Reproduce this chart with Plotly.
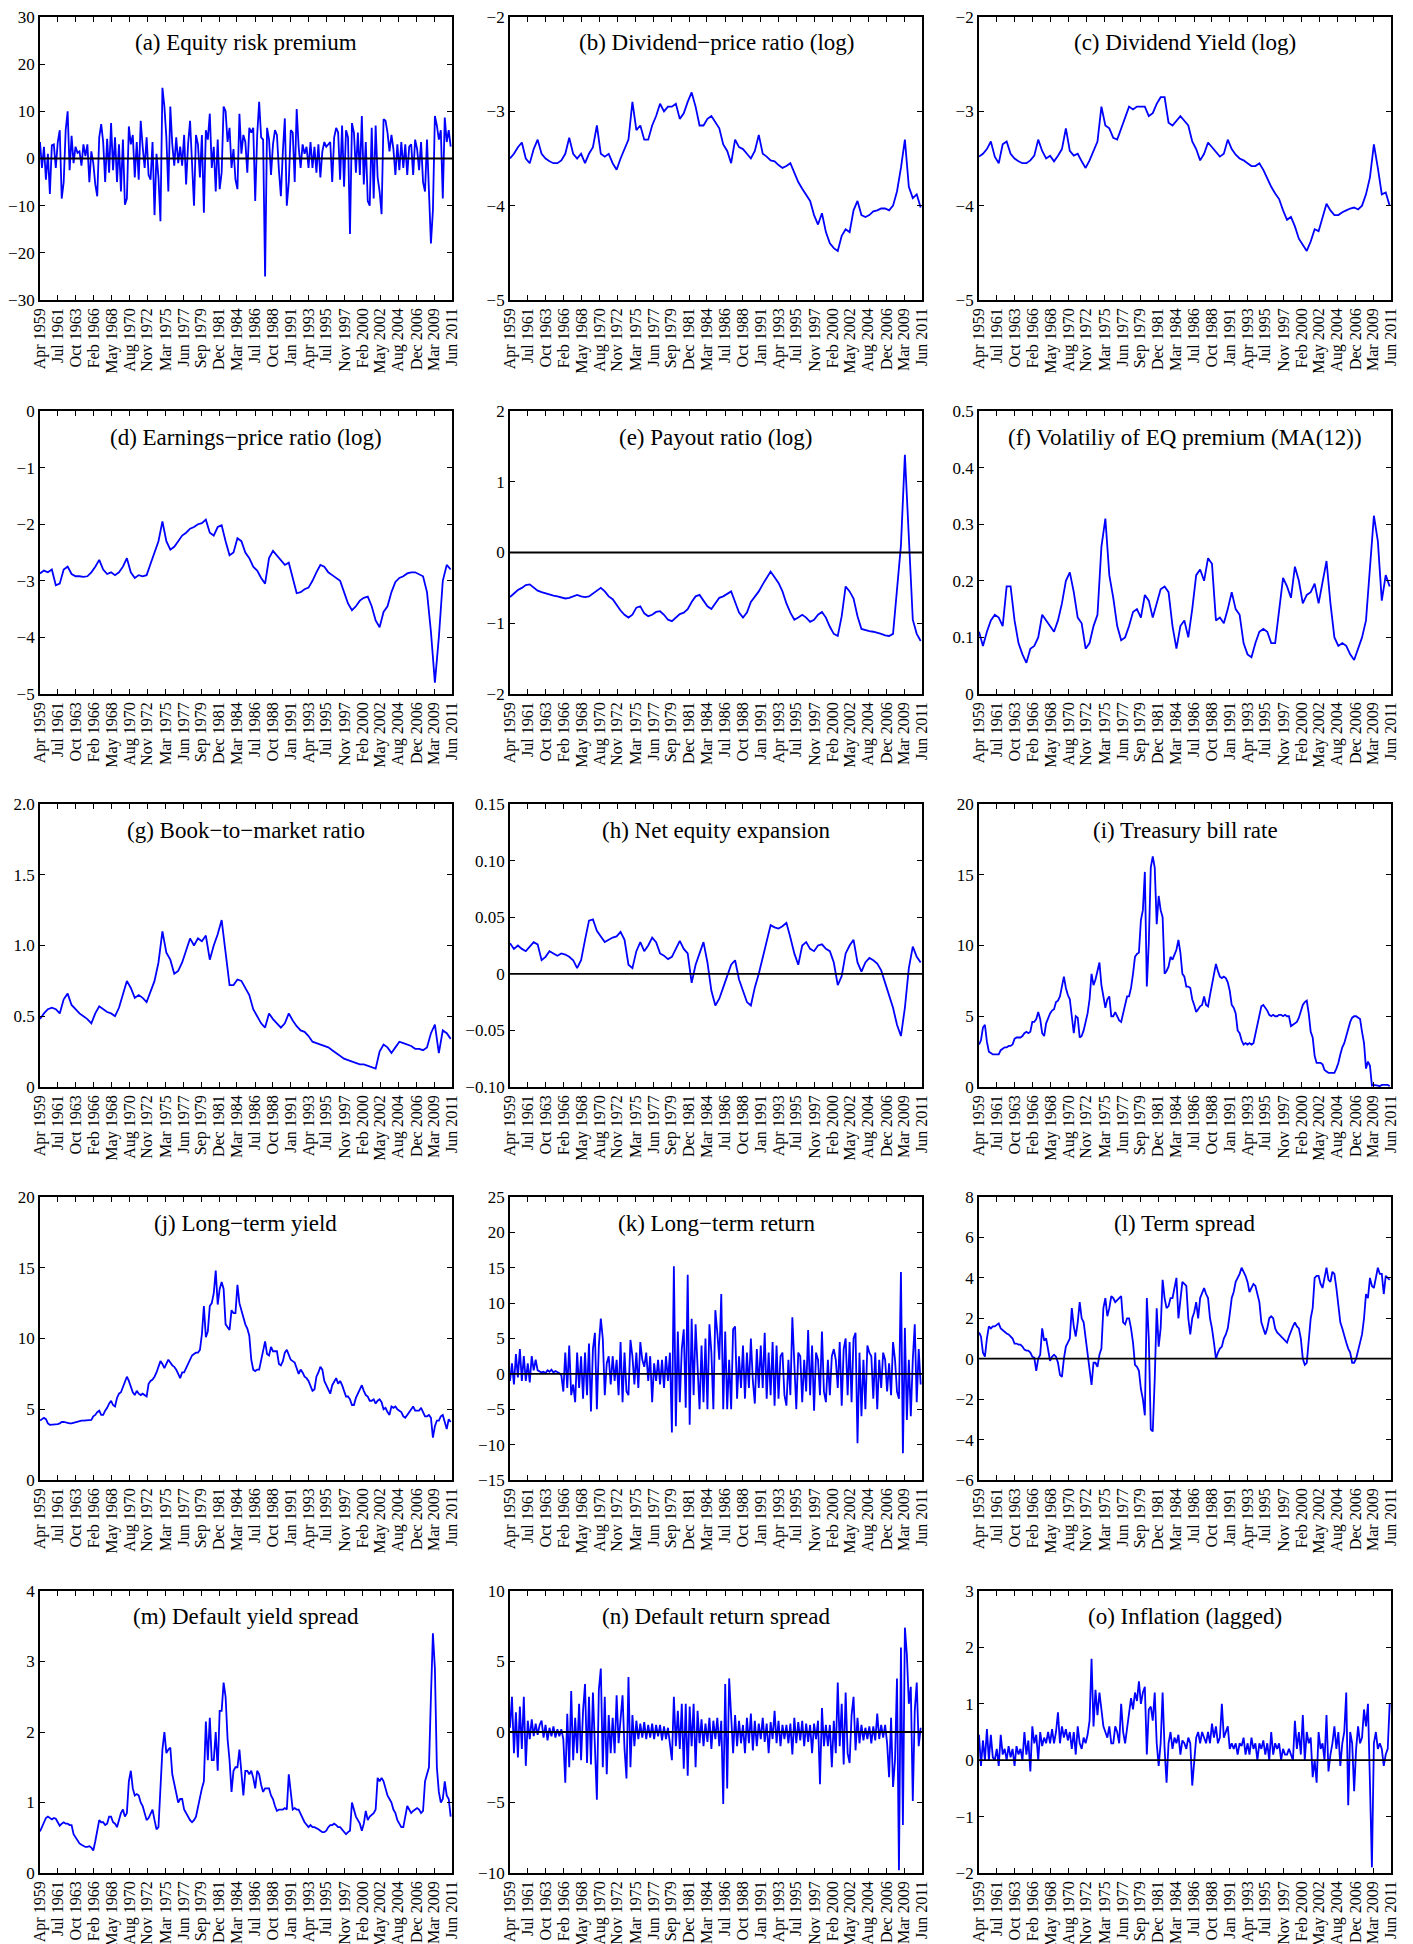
import math
import plotly.graph_objects as go

# ---------------- data ----------------
N_MONTHS = 627  # Apr 1959 .. Jun 2011, monthly
x_tick_labels = ["Apr 1959", "Jul 1961", "Oct 1963", "Feb 1966", "May 1968", "Aug 1970",
                 "Nov 1972", "Mar 1975", "Jun 1977", "Sep 1979", "Dec 1981", "Mar 1984",
                 "Jul 1986", "Oct 1988", "Jan 1991", "Apr 1993", "Jul 1995", "Nov 1997",
                 "Feb 2000", "May 2002", "Aug 2004", "Dec 2006", "Mar 2009", "Jun 2011"]

# quarterly samples (Apr, Jul, Oct, Jan) from Apr 1959
equity_premium = [
    3.5, -2.0, 2.5, -4.5, 1.0, -7.5, 2.8, 3.0, -2.0, 3.5, 6.0, -8.5, -5.0, 6.0, 10.0, -2.5,
    4.8, -1.0, 2.5, 1.2, 1.5, -1.5, 3.0, 0.5, 3.0, -5.0, 1.5, -1.0, -5.5, -8.0, 4.5, 7.3,
    3.5, -5.0, 4.2, -3.0, 7.5, -2.5, 4.5, -5.0, 3.0, -7.0, 4.0, -9.8, -8.5, 6.8, 3.0, 5.0,
    -4.0, 3.5, -4.5, 8.0, 2.5, -2.0, 4.5, -3.5, -4.5, 3.5, -12.0, 1.0, -4.0, -13.3, 15.0, 11.0,
    4.5, -7.0, 11.0, 3.0, -1.5, 4.5, -1.0, 2.5, -1.5, 5.0, -5.5, 3.0, 8.0, -2.5, -10.0, 5.0,
    3.0, -4.0, 5.0, -11.5, 6.0, 4.0, 9.5, -2.0, 2.5, -7.0, 4.0, -6.5, -3.0, 11.0, 10.0, 3.5,
    6.5, -2.0, 2.0, -4.5, -6.5, 9.5, 1.0, 5.0, 3.5, -3.0, 6.5, 5.5, 6.5, -9.0, 5.0, 12.0,
    4.5, 4.0, -25.0, 6.5, 4.0, -3.5, 3.0, 6.0, 5.0, -2.5, -8.0, 1.5, 8.5, -10.0, -5.0, 6.0,
    5.5, -5.0, 10.5, 2.5, -2.0, 3.0, 1.0, 2.5, -2.0, 3.5, -2.0, 2.5, -3.0, 3.0, -4.0, 1.5,
    3.5, 2.5, 3.0, 3.5, -5.0, 4.5, 6.5, 5.5, -4.5, 7.0, -6.0, 6.0, 4.5, -16.0, 7.5, 5.5,
    -3.0, 5.5, -3.5, 9.0, -5.5, 3.5, -9.0, -10.0, 6.5, -8.5, 7.0, -4.0, -7.0, -11.8, 8.3, 8.0,
    5.5, 1.5, 5.0, 2.0, -3.5, 3.0, -2.5, 3.5, -2.0, 3.0, -3.5, 2.5, 3.0, -3.5, 4.0, 2.0,
    -2.5, 3.5, -5.0, -7.0, 4.0, -8.7, -18.0, -11.0, 9.0, 7.0, 4.0, 6.0, -8.5, 8.7, 3.5, 6.0,
    2.5]

# semi-annual samples (Apr, Oct) from Apr 1959
dividend_price = [
    -3.50, -3.45, -3.38, -3.33, -3.50, -3.55, -3.40, -3.30, -3.45, -3.50,
    -3.53, -3.55, -3.55, -3.52, -3.45, -3.28, -3.45, -3.50, -3.45, -3.55,
    -3.45, -3.38, -3.15, -3.45, -3.48, -3.45, -3.55, -3.62, -3.50, -3.40,
    -3.30, -2.90, -3.20, -3.15, -3.30, -3.30, -3.15, -3.05, -2.92, -3.00,
    -2.95, -2.95, -2.92, -3.08, -3.02, -2.90, -2.80, -2.95, -3.15, -3.15,
    -3.08, -3.05, -3.12, -3.18, -3.35, -3.42, -3.55, -3.30, -3.38, -3.40,
    -3.45, -3.50, -3.42, -3.25, -3.45, -3.48, -3.52, -3.53, -3.57, -3.60,
    -3.58, -3.55, -3.65, -3.75, -3.82, -3.88, -3.95, -4.10, -4.20, -4.08,
    -4.28, -4.40, -4.45, -4.48, -4.32, -4.25, -4.28, -4.05, -3.95, -4.10,
    -4.12, -4.10, -4.06, -4.05, -4.03, -4.03, -4.05, -4.00, -3.85, -3.60,
    -3.30, -3.80, -3.92, -3.88, -4.02]

dividend_yield = [
    -3.48, -3.45, -3.40, -3.32, -3.48, -3.55, -3.35, -3.32, -3.45, -3.50,
    -3.53, -3.55, -3.55, -3.52, -3.47, -3.30, -3.42, -3.50, -3.47, -3.53,
    -3.47, -3.40, -3.18, -3.42, -3.47, -3.45, -3.53, -3.60, -3.52, -3.42,
    -3.32, -2.95, -3.15, -3.18, -3.28, -3.30, -3.18, -3.05, -2.95, -2.98,
    -2.95, -2.95, -2.95, -3.05, -3.02, -2.92, -2.85, -2.85, -3.12, -3.15,
    -3.10, -3.05, -3.10, -3.15, -3.32, -3.40, -3.52, -3.45, -3.33, -3.38,
    -3.43, -3.48, -3.45, -3.30, -3.40, -3.46, -3.50, -3.52, -3.55, -3.58,
    -3.58, -3.55, -3.62, -3.72, -3.80, -3.87, -3.93, -4.05, -4.15, -4.12,
    -4.22, -4.35, -4.42, -4.48, -4.38, -4.25, -4.27, -4.12, -3.98, -4.05,
    -4.10, -4.10, -4.07, -4.05, -4.03, -4.02, -4.04, -4.00, -3.88, -3.70,
    -3.35, -3.60, -3.88, -3.86, -4.00]

earnings_price = [
    -2.87, -2.82, -2.85, -2.80, -3.08, -3.05, -2.80, -2.75, -2.88, -2.92,
    -2.92, -2.93, -2.92, -2.85, -2.75, -2.63, -2.80, -2.88, -2.85, -2.90,
    -2.85, -2.75, -2.60, -2.85, -2.95, -2.90, -2.92, -2.90, -2.70, -2.50,
    -2.30, -1.95, -2.30, -2.45, -2.40, -2.30, -2.20, -2.15, -2.08, -2.05,
    -2.00, -1.98, -1.92, -2.15, -2.20, -2.05, -2.02, -2.30, -2.55, -2.50,
    -2.25, -2.30, -2.50, -2.60, -2.75, -2.82, -2.95, -3.05, -2.60, -2.47,
    -2.55, -2.65, -2.72, -2.68, -2.95, -3.22, -3.20, -3.15, -3.12, -3.00,
    -2.85, -2.72, -2.75, -2.85, -2.90, -2.95, -3.00, -3.20, -3.40, -3.52,
    -3.45, -3.35, -3.30, -3.28, -3.45, -3.70, -3.82, -3.55, -3.45, -3.20,
    -3.02, -2.95, -2.92, -2.87, -2.85, -2.85, -2.88, -2.92, -3.20, -3.90,
    -4.80, -4.00, -3.00, -2.72, -2.80]

payout_ratio = [
    -0.63, -0.58, -0.53, -0.50, -0.46, -0.45, -0.50, -0.54, -0.56, -0.58,
    -0.59, -0.61, -0.62, -0.64, -0.65, -0.64, -0.62, -0.60, -0.62, -0.63,
    -0.62, -0.58, -0.53, -0.50, -0.55, -0.62, -0.66, -0.75, -0.82, -0.88,
    -0.92, -0.88, -0.78, -0.76, -0.86, -0.90, -0.88, -0.84, -0.83, -0.88,
    -0.95, -0.97, -0.92, -0.87, -0.85, -0.80, -0.70, -0.62, -0.60, -0.68,
    -0.76, -0.80, -0.72, -0.64, -0.62, -0.58, -0.55, -0.70, -0.85, -0.92,
    -0.85, -0.70, -0.62, -0.55, -0.45, -0.35, -0.27, -0.35, -0.43, -0.55,
    -0.72, -0.85, -0.95, -0.92, -0.88, -0.92, -0.98, -0.95, -0.88, -0.84,
    -0.92, -1.05, -1.15, -1.18, -0.90, -0.48, -0.55, -0.65, -0.90, -1.08,
    -1.10, -1.11, -1.12, -1.13, -1.15, -1.17, -1.18, -1.15, -0.55, 0.10,
    1.38, 0.20, -0.95, -1.15, -1.25]

volatility = [
    0.110, 0.085, 0.110, 0.130, 0.140, 0.135, 0.120, 0.190, 0.190, 0.130,
    0.090, 0.070, 0.055, 0.080, 0.085, 0.100, 0.140, 0.130, 0.120, 0.110,
    0.130, 0.160, 0.200, 0.215, 0.180, 0.135, 0.125, 0.080, 0.090, 0.120,
    0.140, 0.260, 0.310, 0.210, 0.170, 0.120, 0.095, 0.100, 0.120, 0.145,
    0.150, 0.135, 0.175, 0.165, 0.135, 0.160, 0.185, 0.190, 0.180, 0.120,
    0.080, 0.120, 0.130, 0.100, 0.150, 0.210, 0.220, 0.200, 0.240, 0.230,
    0.130, 0.135, 0.125, 0.150, 0.180, 0.150, 0.140, 0.090, 0.070, 0.065,
    0.090, 0.110, 0.115, 0.110, 0.090, 0.090, 0.150, 0.205, 0.190, 0.170,
    0.225, 0.200, 0.160, 0.175, 0.180, 0.195, 0.160, 0.200, 0.235, 0.160,
    0.100, 0.085, 0.090, 0.085, 0.070, 0.060, 0.080, 0.100, 0.130, 0.230,
    0.315, 0.270, 0.165, 0.210, 0.190]

book_to_market = [
    0.48, 0.52, 0.55, 0.56, 0.55, 0.52, 0.62, 0.66, 0.58, 0.55,
    0.52, 0.50, 0.48, 0.45, 0.52, 0.57, 0.55, 0.53, 0.52, 0.50,
    0.56, 0.65, 0.75, 0.70, 0.63, 0.65, 0.63, 0.60, 0.68, 0.75,
    0.88, 1.10, 0.95, 0.90, 0.80, 0.82, 0.88, 0.96, 1.05, 1.00,
    1.05, 1.03, 1.07, 0.90, 1.00, 1.08, 1.18, 0.95, 0.72, 0.72,
    0.76, 0.75, 0.70, 0.65, 0.55, 0.50, 0.45, 0.42, 0.52, 0.48,
    0.45, 0.42, 0.45, 0.52, 0.47, 0.43, 0.40, 0.39, 0.36, 0.32,
    0.31, 0.30, 0.29, 0.28, 0.26, 0.24, 0.22, 0.20, 0.19, 0.18,
    0.17, 0.16, 0.16, 0.15, 0.14, 0.13, 0.25, 0.30, 0.28, 0.24,
    0.28, 0.32, 0.31, 0.30, 0.29, 0.27, 0.27, 0.26, 0.28, 0.38,
    0.44, 0.24, 0.40, 0.38, 0.34]

net_equity = [
    0.027, 0.022, 0.025, 0.022, 0.020, 0.024, 0.028, 0.026, 0.012, 0.015,
    0.020, 0.018, 0.016, 0.018, 0.017, 0.015, 0.012, 0.005, 0.012, 0.030,
    0.047, 0.048, 0.038, 0.033, 0.028, 0.030, 0.032, 0.033, 0.037, 0.030,
    0.008, 0.005, 0.020, 0.028, 0.020, 0.025, 0.032, 0.028, 0.018, 0.016,
    0.013, 0.015, 0.022, 0.029, 0.022, 0.018, -0.008, 0.008, 0.018, 0.028,
    0.010, -0.015, -0.028, -0.022, -0.012, -0.002, 0.008, 0.012, -0.005, -0.015,
    -0.025, -0.028, -0.012, 0.000, 0.015, 0.030, 0.043, 0.041, 0.040, 0.042,
    0.045, 0.032, 0.018, 0.008, 0.025, 0.028, 0.022, 0.020, 0.025, 0.026,
    0.022, 0.020, 0.010, -0.010, -0.002, 0.018, 0.025, 0.030, 0.010, 0.002,
    0.010, 0.014, 0.012, 0.009, 0.003, -0.008, -0.018, -0.030, -0.045, -0.055,
    -0.030, 0.005, 0.024, 0.015, 0.010]

# quarterly samples
tbill_rate = [
    3.0, 3.3, 4.2, 4.4, 3.2, 2.5, 2.4, 2.3, 2.3, 2.3, 2.3, 2.6, 2.7, 2.8, 2.8, 2.9,
    2.9, 3.0, 3.4, 3.5, 3.5, 3.5, 3.6, 3.8, 3.9, 3.8, 3.9, 4.6, 4.6, 4.8, 5.3, 4.8,
    3.8, 3.6, 4.5, 4.9, 5.2, 5.4, 5.5, 6.0, 6.1, 6.4, 7.0, 7.8, 7.0, 6.5, 6.2, 5.0,
    3.8, 5.0, 4.9, 3.5, 3.6, 4.0, 4.6, 5.2, 6.2, 8.0, 7.2, 7.6, 8.2, 8.8, 7.2, 6.5,
    5.6, 6.2, 6.4, 5.0, 5.0, 5.3, 5.0, 4.7, 4.6, 5.2, 6.0, 6.4, 6.4, 7.0, 8.0, 9.2,
    9.4, 9.5, 11.8, 12.5, 15.2, 7.1, 10.2, 15.5, 16.3, 15.5, 11.5, 13.5, 12.5, 12.0, 8.0, 8.2,
    8.5, 9.2, 9.0, 9.3, 9.7, 10.4, 9.5, 8.0, 7.8, 7.1, 7.1, 7.0, 6.2, 5.8, 5.3, 5.5,
    5.7, 5.8, 6.4, 5.8, 5.7, 6.5, 7.2, 8.0, 8.7, 8.2, 7.8, 7.7, 7.8, 7.7, 7.4, 6.8,
    5.8, 5.6, 5.2, 4.0, 3.8, 3.3, 3.0, 3.1, 3.0, 3.1, 3.0, 3.1, 3.7, 4.3, 4.9, 5.7,
    5.8, 5.6, 5.4, 5.1, 5.0, 5.1, 5.0, 5.0, 5.1, 5.1, 5.0, 5.1, 5.0, 5.0, 4.3, 4.4,
    4.5, 4.6, 4.9, 5.3, 5.8, 6.0, 6.1, 5.2, 3.9, 3.5, 2.2, 1.7, 1.7, 1.7, 1.6, 1.2,
    1.1, 1.0, 1.0, 1.0, 1.0, 1.3, 1.7, 2.3, 2.8, 3.1, 3.6, 4.0, 4.6, 4.9, 5.0, 5.0,
    4.9, 4.8, 3.9, 3.1, 1.3, 1.8, 1.5, 0.1, 0.15, 0.15, 0.1, 0.05, 0.15, 0.15, 0.13, 0.15,
    0.05]

long_term_yield = [
    4.2, 4.3, 4.4, 4.3, 4.0, 3.9, 3.9, 3.9, 3.9, 3.95, 4.0, 4.1, 4.1, 4.05, 4.0, 4.0,
    4.0, 4.05, 4.1, 4.15, 4.2, 4.2, 4.2, 4.2, 4.2, 4.2, 4.25, 4.5, 4.6, 4.8, 4.9, 4.6,
    4.6, 4.9, 5.1, 5.4, 5.6, 5.3, 5.2, 5.8, 6.1, 6.2, 6.6, 6.9, 7.3, 7.0, 6.6, 6.2,
    6.0, 6.3, 6.1, 6.0, 6.1, 6.0, 5.9, 6.8, 7.0, 7.1, 7.3, 7.6, 8.0, 8.4, 8.2, 7.9,
    8.2, 8.5, 8.3, 8.1, 8.0, 7.8, 7.5, 7.2, 7.6, 7.6, 7.9, 8.2, 8.4, 8.8, 8.9, 9.0,
    9.0, 9.2, 10.3, 12.3, 10.1, 10.5, 12.3, 12.5, 13.2, 14.8, 12.4, 13.5, 14.0, 13.5, 11.0, 10.8,
    10.6, 12.0, 11.8, 11.8, 13.8, 12.5, 12.0, 11.5, 11.0, 10.7, 10.2, 8.5, 7.8, 7.7, 7.8, 7.8,
    8.5, 9.0, 9.8, 8.9, 8.8, 9.4, 9.1, 9.1, 9.1, 8.2, 8.1, 8.4, 9.0, 9.2, 8.8, 8.5,
    8.4, 8.3, 7.9, 7.5, 7.8, 7.6, 7.3, 7.2, 7.0, 6.7, 6.3, 6.4, 7.3, 7.6, 8.0, 7.8,
    7.0, 6.7, 6.4, 6.1, 6.7, 7.0, 7.2, 6.8, 7.0, 6.7, 6.3, 5.9, 5.9, 5.7, 5.3, 5.3,
    5.8, 6.1, 6.4, 6.7, 6.3, 6.0, 5.9, 5.6, 5.6, 5.7, 5.4, 5.6, 5.7, 5.5, 5.0, 5.1,
    4.8, 4.6, 5.2, 5.1, 5.2, 5.0, 4.9, 4.8, 4.5, 4.4, 4.6, 4.8, 5.0, 5.2, 4.9, 4.9,
    4.9, 5.1, 4.8, 4.5, 4.5, 4.6, 4.4, 3.0, 3.8, 4.2, 4.2, 4.5, 4.6, 4.1, 3.6, 4.3,
    4.1]

long_term_return = [
    -1.0, 1.5, -1.5, 2.8, -0.5, 3.5, -1.0, 2.5, -1.0, 1.5, -1.2, 2.5, 0.5, 2.0, 0.5, 0.3,
    0.2, 0.3, 0.1, 0.5, 0.3, 0.6, 0.2, 0.4, 0.3, 0.1, -0.2, -2.5, 3.0, -2.0, 4.0, -3.0,
    -1.5, -4.0, 3.0, -2.0, 2.5, -3.5, 3.0, -3.0, 4.3, -5.3, 3.5, 5.8, -5.0, 4.0, 7.8, 5.0,
    -3.0, 1.5, 2.5, -1.5, 2.5, -1.0, 2.0, -3.0, 4.5, -4.0, 3.0, -2.5, -3.0, 4.8, 2.5, -1.5,
    3.0, -2.0, 4.5, 2.0, 1.0, 3.0, -1.0, 2.5, -4.0, 1.5, -1.0, 2.0, -1.5, 2.0, -2.0, 2.5,
    -1.0, 3.0, -8.3, 15.2, -7.4, 6.0, -4.0, 3.5, 6.3, -4.8, 14.0, -7.2, 7.8, -3.0, 7.0, 1.0,
    -5.0, 4.0, -4.0, 5.0, -5.0, 7.0, 3.0, -5.0, 9.0, 5.8, 2.0, 11.3, -5.0, 6.0, -5.0, 2.0,
    -5.0, 6.3, 6.7, -3.5, 2.5, -2.0, 4.0, -3.5, 3.0, -2.0, 5.0, -1.0, -4.2, 3.5, -2.0, 4.0,
    -2.0, 5.8, -3.5, 3.0, -3.0, 4.5, -4.5, 4.0, -3.5, 2.5, 3.0, -3.0, -4.5, 2.0, -3.0, 8.0,
    2.0, -5.0, 3.0, 2.5, -4.0, 2.0, -2.5, 6.2, -3.0, 4.0, -5.2, 3.0, 2.0, -3.0, 6.0, -2.5,
    -4.0, 2.0, -3.0, 2.5, 3.5, 2.0, -2.0, 4.5, -4.5, 3.5, 5.0, -3.0, 4.5, -4.0, 5.0, 5.8,
    -9.8, 3.0, -6.0, 2.0, -5.0, 4.0, 3.0, 2.5, -3.5, 3.0, -5.0, 2.0, -2.0, 3.0, 2.0, -2.5,
    1.5, -3.0, 4.5, 2.0, -2.5, -3.5, 14.4, -11.2, 6.5, -6.5, 2.0, -6.0, 2.0, 7.0, -4.0, 3.5,
    -1.5]

term_spread = [
    1.3, 1.1, 0.3, 0.1, 1.0, 1.6, 1.5, 1.6, 1.6, 1.7, 1.75, 1.5, 1.4, 1.3, 1.25, 1.2,
    1.1, 1.0, 0.75, 0.75, 0.7, 0.7, 0.6, 0.45, 0.4, 0.4, 0.3, 0.1, 0.05, -0.6, 0.0, 0.2,
    1.5, 0.9, 1.0, 0.5, -0.1, 0.1, 0.2, 0.1, -0.2, -0.8, -0.9, 0.0, 0.6, 0.8, 1.0, 2.5,
    1.6, 1.1, 1.8, 2.8, 2.0, 1.8, 1.0, 0.5, -0.5, -1.3, -0.2, -0.2, -0.4, 0.2, 0.5, 2.5,
    3.0, 2.1, 2.5, 3.1, 3.0, 2.8, 2.9, 3.0, 3.1, 1.8, 1.7, 2.0, 2.0, 1.5, 0.8, -0.3,
    -0.4, -0.6, -1.5, -2.0, -2.8, 3.0, 1.0, -3.5, -3.6, -1.0, 2.5, 0.6, 1.5, 3.9, 3.0, 2.5,
    2.6, 3.0, 3.0, 3.5, 4.0, 2.0, 3.0, 3.8, 3.7, 3.6, 2.0, 1.2, 2.0, 2.3, 2.8, 2.0,
    3.0, 3.3, 3.5, 3.2, 3.0, 2.0, 1.5, 0.8, 0.0, 0.3, 0.5, 0.6, 1.0, 1.2, 1.5, 2.2,
    3.0, 3.3, 3.8, 4.0, 4.2, 4.5, 4.3, 4.1, 3.8, 3.3, 3.5, 3.7, 3.6, 3.2, 2.8, 1.8,
    1.5, 1.2, 1.5, 2.0, 2.1, 2.0, 1.5, 1.3, 1.2, 1.1, 1.0, 0.9, 0.8, 1.1, 1.4, 1.6,
    1.8, 1.6, 1.5, 1.0, 0.0, -0.3, -0.2, 1.0, 2.0, 2.5, 4.0, 4.1, 4.1, 3.7, 3.5, 4.0,
    4.5, 3.9, 3.8, 4.3, 4.2, 3.5, 2.7, 1.8, 1.5, 1.1, 0.8, 0.5, 0.3, -0.2, -0.2, 0.0,
    0.4, 0.8, 1.2, 2.0, 3.2, 3.0, 4.0, 3.6, 3.5, 4.0, 4.5, 4.2, 4.2, 3.2, 4.1, 4.0,
    3.9]

default_yield = [
    0.59, 0.65, 0.72, 0.78, 0.80, 0.78, 0.76, 0.78, 0.77, 0.72, 0.67, 0.70, 0.72, 0.70, 0.70, 0.68,
    0.68, 0.55, 0.50, 0.46, 0.42, 0.40, 0.38, 0.37, 0.37, 0.38, 0.36, 0.32, 0.45, 0.60, 0.75, 0.72,
    0.72, 0.68, 0.70, 0.80, 0.80, 0.72, 0.70, 0.65, 0.75, 0.85, 0.90, 0.80, 0.85, 1.30, 1.45, 1.20,
    1.10, 1.12, 1.10, 1.00, 0.95, 0.85, 0.75, 0.78, 0.85, 0.90, 0.75, 0.62, 0.65, 1.30, 1.75, 2.00,
    1.70, 1.75, 1.78, 1.40, 1.25, 1.10, 1.00, 1.05, 1.05, 0.90, 0.85, 0.78, 0.75, 0.72, 0.75, 0.80,
    0.95, 1.10, 1.20, 1.30, 2.15, 1.60, 2.20, 1.60, 1.60, 2.00, 1.45, 2.30, 2.30, 2.70, 2.50, 1.90,
    1.60, 1.15, 1.45, 1.50, 1.50, 1.75, 1.40, 1.10, 1.45, 1.45, 1.40, 1.45, 1.35, 1.20, 1.45, 1.40,
    1.25, 1.15, 1.20, 1.20, 1.20, 1.10, 1.05, 0.95, 0.88, 0.90, 0.90, 0.90, 0.92, 0.90, 1.40, 1.10,
    0.90, 0.92, 0.90, 0.90, 0.85, 0.78, 0.72, 0.68, 0.65, 0.68, 0.65, 0.65, 0.64, 0.62, 0.60, 0.58,
    0.58, 0.60, 0.65, 0.68, 0.68, 0.70, 0.68, 0.65, 0.65, 0.62, 0.58, 0.55, 0.58, 0.60, 1.00, 0.90,
    0.80, 0.75, 0.70, 0.60, 0.70, 0.88, 0.75, 0.80, 0.82, 0.85, 0.90, 1.35, 1.30, 1.35, 1.30, 1.20,
    1.10, 1.05, 1.00, 0.90, 0.85, 0.75, 0.70, 0.65, 0.65, 0.80, 0.95, 0.90, 0.85, 0.88, 0.90, 0.92,
    0.90, 0.85, 0.88, 1.30, 1.40, 1.50, 2.50, 3.40, 2.90, 1.50, 1.15, 1.00, 1.05, 1.30, 1.10, 1.05,
    0.80]

default_return = [
    0.3, 2.5, -1.5, 1.4, -1.8, 1.8, -1.2, 2.5, -2.4, 0.8, -0.5, 0.9, -0.3, 0.6, -0.2, 0.5,
    0.8, -0.4, 0.5, -0.6, 0.3, -0.3, 0.4, -0.4, 0.2, -0.3, 0.2, -0.5, -3.6, 1.3, -2.5, 2.9,
    -2.0, 1.0, -1.5, 2.0, -2.0, 1.5, 3.4, -2.2, 2.5, -2.3, 2.8, -1.8, -4.8, 3.0, 4.5, -2.5,
    2.5, -3.0, 1.2, -1.5, 1.0, -1.5, 2.6, -0.8, 1.0, 2.6, -1.2, -3.3, 3.9, -2.5, 1.2, -1.0,
    0.8, -0.5, 0.6, -0.4, 0.7, -0.5, 0.5, -0.4, 0.6, -0.5, 0.5, -0.3, 0.5, -0.6, 0.4, -0.5,
    0.3, -1.0, -2.0, 2.5, -1.0, 1.5, -1.2, 2.0, -2.6, 2.0, -3.1, 1.8, -1.0, 2.0, -2.5, 1.5,
    -0.8, 0.9, -1.0, 0.6, -0.7, 1.0, -1.2, 0.8, -0.5, 1.0, -1.0, 0.8, -5.1, 3.4, -4.0, 3.8,
    1.2, -1.5, 1.2, -1.0, 0.8, -0.8, 0.5, -1.5, 1.0, -0.8, 1.3, -1.3, 0.8, -1.0, 0.6, -0.5,
    1.0, -0.7, 0.6, -1.5, 0.7, -0.5, 1.5, -0.8, 0.8, -1.0, 0.5, -0.5, 0.5, -0.8, 0.6, -1.6,
    1.0, -0.8, 0.7, -0.6, 0.8, -1.0, 0.6, -0.7, 0.5, -1.5, 0.6, -0.5, 0.8, -3.7, 1.7, -1.0,
    0.5, -1.0, 0.5, -2.5, 0.8, -1.5, 3.5, -1.0, 2.0, -2.3, 2.8, -1.5, -2.2, 1.2, 2.5, -1.3,
    1.0, -0.8, 0.5, -0.6, 0.3, -0.5, 0.4, -0.8, 0.4, -0.6, 1.3, -0.5, 0.5, -0.4, 0.5, -0.8,
    -3.2, 1.0, -3.9, -2.0, 3.8, -9.8, 6.0, -6.6, 7.4, 5.5, 2.0, 3.2, -4.9, 1.5, 3.5, -1.0,
    0.3]

inflation_lagged = [
    0.45, -0.1, 0.35, 0.0, 0.55, 0.0, 0.45, 0.05, 0.0, 0.2, -0.1, 0.45, 0.1, 0.2, 0.0, 0.25,
    0.05, 0.2, -0.1, 0.25, 0.1, 0.2, 0.0, 0.5, 0.1, 0.35, -0.2, 0.6, 0.3, 0.45, 0.0, 0.5,
    0.25, 0.4, 0.3, 0.5, 0.3, 0.55, 0.3, 0.5, 0.85, 0.3, 0.6, 0.4, 0.55, 0.35, 0.5, 0.2,
    0.5, 0.1, 0.6, 0.3, 0.2, 0.4, 0.3, 0.45, 0.7, 1.8, 0.6, 1.25, 0.8, 1.2, 0.9, 0.6,
    0.5, 0.4, 0.6, 0.3, 0.3, 0.6, 0.5, 0.3, 1.0, 0.5, 0.3, 0.6, 0.8, 1.1, 0.9, 1.2,
    1.05, 1.4, 1.0, 1.2, 1.3, 0.1, 0.9, 0.95, 0.7, 1.2, 0.3, -0.1, 0.3, 1.2, 0.2, -0.4,
    0.3, 0.5, 0.2, 0.4, 0.3, 0.45, 0.1, 0.35, 0.3, 0.2, 0.4, 0.3, -0.45, 0.0, 0.4, 0.5,
    0.3, 0.5, 0.4, 0.3, 0.5, 0.3, 0.65, 0.4, 0.6, 0.3, 0.4, 1.0, 0.4, 0.5, 0.6, 0.2,
    0.3, 0.2, 0.3, 0.1, 0.3, 0.25, 0.4, 0.1, 0.3, 0.1, 0.4, 0.2, 0.3, 0.0, 0.3, 0.2,
    0.35, 0.1, 0.3, 0.0, 0.5, 0.1, 0.3, 0.2, 0.3, 0.0, 0.2, 0.1, 0.1, 0.2, 0.1, 0.0,
    0.7, 0.2, 0.5, 0.1, 0.8, 0.0, 0.5, 0.3, 0.4, -0.3, 0.0, -0.4, 0.5, 0.2, 0.3, 0.0,
    0.8, -0.2, 0.1, 0.3, 0.6, 0.2, 0.5, -0.1, 0.3, 0.5, 1.2, -0.8, 0.5, 0.3, -0.55, 0.2,
    0.6, 0.3, 0.4, 0.9, 0.6, 1.0, -0.4, -1.9, 0.3, 0.5, 0.2, 0.3, 0.2, -0.1, 0.1, 0.2,
    1.0]

# panel definitions: (title, values, months per sample, y tick values, y tick texts, zero line)
panels = [
    ("(a) Equity risk premium", equity_premium, 3, [-30, -20, -10, 0, 10, 20, 30],
     ["\u221230", "\u221220", "\u221210", "0", "10", "20", "30"], True),
    ("(b) Dividend\u2212price ratio (log)", dividend_price, 6, [-5, -4, -3, -2],
     ["\u22125", "\u22124", "\u22123", "\u22122"], False),
    ("(c) Dividend Yield (log)", dividend_yield, 6, [-5, -4, -3, -2],
     ["\u22125", "\u22124", "\u22123", "\u22122"], False),
    ("(d) Earnings\u2212price ratio (log)", earnings_price, 6, [-5, -4, -3, -2, -1, 0],
     ["\u22125", "\u22124", "\u22123", "\u22122", "\u22121", "0"], False),
    ("(e) Payout ratio (log)", payout_ratio, 6, [-2, -1, 0, 1, 2],
     ["\u22122", "\u22121", "0", "1", "2"], True),
    ("(f) Volatiliy of EQ premium (MA(12))", volatility, 6, [0, 0.1, 0.2, 0.3, 0.4, 0.5],
     ["0", "0.1", "0.2", "0.3", "0.4", "0.5"], False),
    ("(g) Book\u2212to\u2212market ratio", book_to_market, 6, [0, 0.5, 1.0, 1.5, 2.0],
     ["0", "0.5", "1.0", "1.5", "2.0"], False),
    ("(h) Net equity expansion", net_equity, 6, [-0.10, -0.05, 0, 0.05, 0.10, 0.15],
     ["\u22120.10", "\u22120.05", "0", "0.05", "0.10", "0.15"], True),
    ("(i) Treasury bill rate", tbill_rate, 3, [0, 5, 10, 15, 20],
     ["0", "5", "10", "15", "20"], False),
    ("(j) Long\u2212term yield", long_term_yield, 3, [0, 5, 10, 15, 20],
     ["0", "5", "10", "15", "20"], False),
    ("(k) Long\u2212term return", long_term_return, 3, [-15, -10, -5, 0, 5, 10, 15, 20, 25],
     ["\u221215", "\u221210", "\u22125", "0", "5", "10", "15", "20", "25"], True),
    ("(l) Term spread", term_spread, 3, [-6, -4, -2, 0, 2, 4, 6, 8],
     ["\u22126", "\u22124", "\u22122", "0", "2", "4", "6", "8"], True),
    ("(m) Default yield spread", default_yield, 3, [0, 1, 2, 3, 4],
     ["0", "1", "2", "3", "4"], False),
    ("(n) Default return spread", default_return, 3, [-10, -5, 0, 5, 10],
     ["\u221210", "\u22125", "0", "5", "10"], True),
    ("(o) Inflation (lagged)", inflation_lagged, 3, [-2, -1, 0, 1, 2, 3],
     ["\u22122", "\u22121", "0", "1", "2", "3"], True),
]

# ---------------- layout ----------------
# the page body adds an 8 px margin, so the figure starts 8 px in from the window;
# the figure fills the rest of the window.
PAGE_OFF = 8
W, H = 1413 - PAGE_OFF, 1944 - PAGE_OFF
col_px = [(40, 452), (510, 922), (979, 1391)]          # window pixel columns
row_px = [(17, 300), (411, 694), (804, 1087), (1197, 1480), (1591, 1873)]

FONT = "Liberation Serif, Times New Roman, serif"
x_tick_pos = [int(math.floor(1 + i * (N_MONTHS - 1) / 23 + 0.5)) - 1 for i in range(24)]

fig = go.Figure()
layout = dict(width=W, height=H, autosize=False,
              margin=dict(l=0, r=0, t=0, b=0, pad=0, autoexpand=False),
              paper_bgcolor="white", plot_bgcolor="white", showlegend=False,
              font=dict(family=FONT, size=16, color="black"))
annotations = []
shapes = []

for k, (title, vals, step, yt, ytt, zero) in enumerate(panels):
    r, c = divmod(k, 3)
    sfx = "" if k == 0 else str(k + 1)
    xs = [min(i * step, N_MONTHS - 1) for i in range(len(vals))]
    fig.add_trace(go.Scatter(x=xs, y=vals, mode="lines",
                             line=dict(color="#0000ff", width=1.8),
                             xaxis="x" + sfx, yaxis="y" + sfx, hoverinfo="skip"))
    x0, x1 = [v - PAGE_OFF for v in col_px[c]]
    y0, y1 = [v - PAGE_OFF for v in row_px[r]]
    common = dict(showgrid=False, zeroline=False, showline=True, linecolor="black",
                  linewidth=1.8, mirror="allticks", ticks="inside", ticklen=5,
                  tickwidth=1, tickcolor="black", automargin=False,
                  ticklabeloverflow="allow")
    layout["xaxis" + sfx] = dict(common, domain=[x0 / W, x1 / W],
                                 anchor="y" + sfx, range=[0, N_MONTHS - 1],
                                 tickmode="array", tickvals=x_tick_pos,
                                 ticktext=x_tick_labels, tickangle=-90,
                                 tickfont=dict(family=FONT, size=16, color="black"))
    layout["yaxis" + sfx] = dict(common, domain=[1 - y1 / H, 1 - y0 / H],
                                 anchor="x" + sfx, range=[yt[0], yt[-1]],
                                 tickmode="array", tickvals=yt, ticktext=ytt,
                                 tickfont=dict(family=FONT, size=17, color="black"))
    annotations.append(dict(text=title, xref="x" + sfx + " domain",
                            yref="y" + sfx + " domain", x=0.5, y=1 - 26 / 283,
                            xanchor="center", yanchor="middle", showarrow=False,
                            font=dict(family=FONT, size=23, color="black")))
    if zero:
        shapes.append(dict(type="line", xref="x" + sfx + " domain", yref="y" + sfx,
                           x0=0, x1=1, y0=0, y1=0, layer="above",
                           line=dict(color="black", width=1.8)))

layout["annotations"] = annotations
layout["shapes"] = shapes
fig.update_layout(**layout)
fig.write_html("out.html", config={"responsive": False})
